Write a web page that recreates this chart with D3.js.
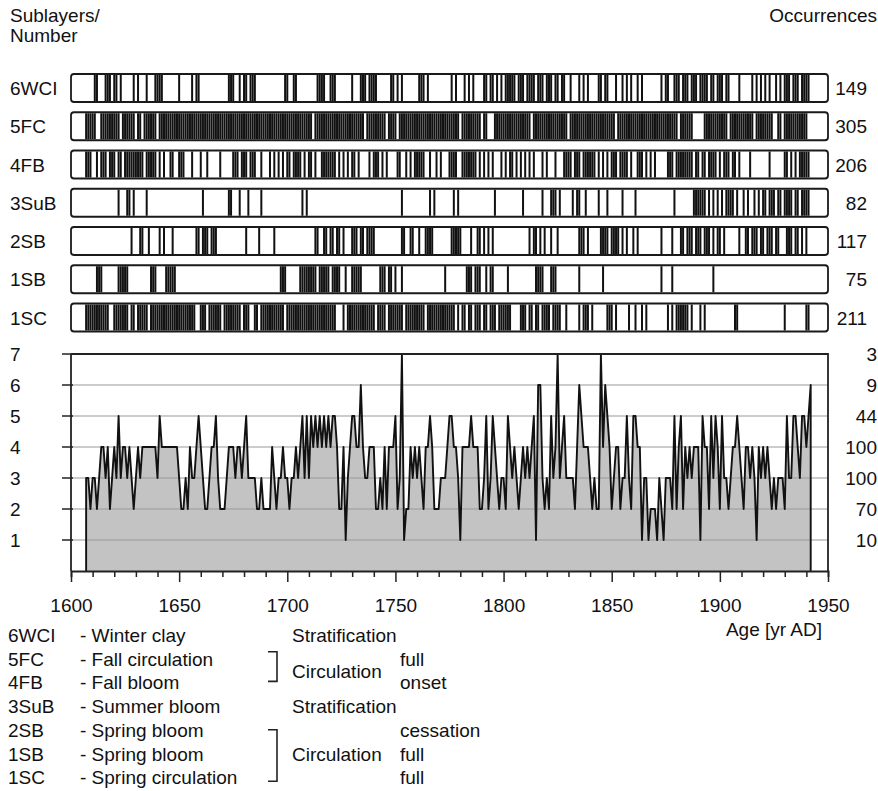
<!DOCTYPE html>
<html lang="en">
<head>
<meta charset="UTF-8" />
<title>Sublayers</title>
<script src="https://cdn.jsdelivr.net/npm/d3@7"></script>
<style>
  body { margin: 0; background: #fff; }
  svg { display: block; font-family: 'Liberation Sans', Arial, Helvetica, sans-serif; }
  text { fill: #111; font-size: 19px; }
</style>
</head>
<body>
<svg id="chart" width="878" height="791"></svg>
<script>
// number of sublayers per year, from 1607 on
const firstYear = 1607
const counts = [
  3,3,2,3,3,2,3,4,4,3, 4,2,3,4,3,5,3,4,4,3, 4,3,2,3,4,3,4,4,4,4,
  4,4,4,3,5,4,4,4,4,4, 4,4,4,3,2,2,3,2,4,3, 3,4,5,4,3,2,2,3,4,4,
  5,3,2,2,2,3,4,4,4,3, 4,4,3,4,5,3,3,3,3,2, 2,3,2,2,2,2,4,3,2,3,
  3,4,3,3,2,3,3,4,3,4, 5,3,5,3,5,4,5,4,5,4, 5,4,5,4,5,5,4,2,2,4,
  1,3,4,5,5,4,4,6,4,3, 3,4,4,4,2,2,3,2,4,2, 4,4,4,5,2,3,7,1,2,2,
  4,3,4,3,4,3,2,4,4,5, 4,2,2,2,3,3,3,4,5,5, 4,4,3,1,4,4,4,4,5,4,
  4,4,2,2,3,5,2,3,5,4, 3,2,3,3,2,5,4,3,4,3, 2,3,4,3,4,3,4,5,1,6,
  6,3,2,3,2,5,3,4,7,3, 4,5,3,3,3,3,2,4,6,5, 4,4,4,3,2,3,2,2,7,4,
  6,5,4,2,3,4,4,2,3,3, 5,3,2,5,5,4,4,1,3,3, 1,2,2,2,1,3,2,1,3,3,
  3,2,5,2,4,5,2,4,3,4, 3,4,4,4,1,5,4,4,2,5, 3,5,4,2,5,3,3,2,3,4,
  4,5,4,3,2,4,4,3,4,3, 1,4,3,4,3,4,3,2,3,2, 3,3,3,2,5,3,3,5,5,4,
  3,5,5,4,5,6
]

const sublayers = ['6WCI', '5FC', '4FB', '3SuB', '2SB', '1SB', '1SC']
const occurrences = [149, 305, 206, 82, 117, 75, 211]
const numberTicks = [1, 2, 3, 4, 5, 6, 7]
const numberTotals = [10, 70, 100, 100, 44, 9, 3]
const yearTicks = [1600, 1650, 1700, 1750, 1800, 1850, 1900, 1950]

// years with the sublayer present: single years or [from, to] runs
const layer6WCI = [1611, 1612, [1616, 1618], 1620, 1621, 1623, 1629, 1631, 1635, [1639, 1642], 1650, 1656, 1658, 1659,
  [1673, 1675], 1678, [1680, 1681], [1683, 1685], 1699, 1700, 1703, 1704, [1714, 1717], [1720, 1722], 1730,
  [1734, 1736], [1738, 1741], 1748, 1749, 1751, 1753, [1761, 1763], 1765, 1776, 1778, 1782, 1784, 1786, 1791, 1792,
  1794, 1795, 1797, 1799, [1801, 1805], [1807, 1809], [1811, 1814], [1816, 1818], [1820, 1822], [1824, 1825],
  [1827, 1828], 1831, 1835, 1837, 1839, 1844, 1845, 1847, 1848, 1852, 1855, 1857, 1859, 1862, 1864, 1873, 1875, 1876,
  [1879, 1881], [1883, 1885], [1887, 1889], [1891, 1894], [1896, 1897], [1899, 1901], [1903, 1904], 1909, 1915,
  1917, 1919, 1921, 1923, 1926, 1928, [1930, 1932], [1934, 1936], [1938, 1941]]
const layer5FC = [[1607, 1611], [1614, 1622], [1624, 1629], [1631, 1632], [1634, 1639], [1641, 1711], [1713, 1735],
  [1737, 1745], [1747, 1750], [1752, 1779], [1781, 1789], [1791, 1792], [1796, 1812], [1814, 1829], [1831, 1851],
  [1853, 1880], [1882, 1887], [1893, 1903], [1905, 1915], [1917, 1924], [1927, 1928], [1930, 1940]]
const layer4FB = [[1607, 1609], 1612, [1614, 1616], [1618, 1620], [1622, 1623], [1625, 1633], [1635, 1639], 1641, 1643,
  [1646, 1647], [1650, 1652], 1656, 1660, 1663, 1669, [1675, 1677], [1679, 1681], [1683, 1685], 1688, 1692, 1694, 1696,
  1698, [1700, 1701], [1703, 1706], 1708, [1710, 1711], 1713, [1716, 1722], 1724, 1726, 1728, [1730, 1731], 1733, 1738,
  [1740, 1742], 1744, 1746, [1751, 1752], 1755, 1757, [1759, 1763], 1766, 1769, 1771, [1775, 1778], [1781, 1787], 1789,
  1791, 1793, 1795, 1799, 1801, [1803, 1804], 1806, 1808, 1810, 1812, 1814, 1818, 1820, 1824, [1828, 1831],
  [1833, 1835], [1837, 1842], 1844, 1846, 1848, [1850, 1852], [1854, 1857], 1859, [1862, 1864], 1866, 1868, 1870,
  [1876, 1878], [1880, 1887], [1889, 1890], [1892, 1893], [1895, 1898], 1900, [1902, 1904], [1906, 1907], 1909, 1914,
  1923, [1930, 1931], 1933, 1935, [1937, 1941]]
const layer3SuB = [1622, 1626, 1627, 1629, 1635, 1661, 1673, 1674, 1678, 1682, 1688, 1707, 1709, 1753, 1766, 1768,
  1777, 1779, 1796, 1809, 1818, [1822, 1824], 1826, 1832, [1834, 1835], 1838, 1844, 1848, 1855, 1861, 1879,
  [1888, 1893], 1895, 1897, 1899, 1901, [1903, 1906], 1908, 1911, 1913, 1916, 1918, [1920, 1921], [1923, 1925],
  [1927, 1928], [1930, 1933], [1935, 1936], [1938, 1941]]
const layer2SB = [1628, 1632, 1633, 1636, 1641, 1643, 1647, [1658, 1659], [1661, 1663], [1665, 1667], 1681, 1687, 1694,
  [1713, 1714], [1717, 1718], [1720, 1721], [1723, 1724], 1726, [1730, 1732], [1734, 1735], [1737, 1740], [1753, 1754],
  [1757, 1758], 1761, [1764, 1767], [1776, 1780], 1785, [1788, 1789], 1791, 1793, 1795, 1812, [1814, 1815], 1817, 1819,
  1822, 1825, [1835, 1837], 1839, [1845, 1848], [1850, 1853], 1855, 1857, 1860, 1862, 1873, 1878, [1882, 1883],
  [1885, 1887], [1889, 1891], [1893, 1895], 1897, [1899, 1900], 1902, 1909, [1912, 1913], [1915, 1917], [1919, 1920],
  [1922, 1924], [1926, 1927], [1931, 1933], [1935, 1936], 1938, 1940]
const layer1SB = [[1612, 1614], [1622, 1626], [1637, 1639], [1644, 1648], [1697, 1699], [1706, 1713], [1715, 1719],
  [1721, 1724], 1727, [1730, 1734], [1743, 1745], [1747, 1748], 1750, 1753, 1773, [1783, 1785], [1787, 1789], 1792,
  [1794, 1795], 1802, [1815, 1818], [1822, 1824], 1835, 1846, 1873, 1878, 1897]
const layer1SC = [[1607, 1617], [1620, 1626], [1628, 1629], [1631, 1635], [1637, 1657], [1660, 1662], [1664, 1669],
  [1671, 1678], [1680, 1682], [1685, 1686], [1688, 1698], [1700, 1722], 1726, [1728, 1740], [1742, 1745], [1747, 1753],
  [1755, 1763], [1765, 1777], 1779, [1781, 1782], [1784, 1785], [1787, 1789], [1791, 1792], [1794, 1796], [1798, 1803],
  [1808, 1810], [1812, 1813], [1815, 1816], [1818, 1821], [1823, 1826], 1829, 1835, [1837, 1839], 1841, [1848, 1850],
  1852, 1858, 1861, 1864, 1866, 1876, 1878, [1880, 1885], 1887, 1891, 1893, [1907, 1908], 1930, [1940, 1941]]

const legendNames = ['- Winter clay', '- Fall circulation', '- Fall bloom', '- Summer bloom',
  '- Spring bloom', '- Spring bloom', '- Spring circulation']
const legendPhase = ['Stratification', '', '', 'Stratification', '', '', '']
const legendState = ['', 'full', 'onset', '', 'cessation', 'full', 'full']

function expand(runs) {
  const years = []
  runs.forEach(r => {
    if (Array.isArray(r)) d3.range(r[0], r[1] + 1).forEach(y => years.push(y))
    else years.push(r)
  })
  return years
}
const layers = [layer6WCI, layer5FC, layer4FB, layer3SuB, layer2SB, layer1SB, layer1SC].map(expand)

const svg = d3.select('#chart')
const left = 71, right = 828
const x = d3.scaleLinear().domain([1600, 1950]).range([left, right])
const rowH = 28
const rowTop = i => 74 + i * 38.25

// barcode rows
sublayers.forEach((name, i) => {
  const top = rowTop(i)
  const g = svg.append('g')
  g.selectAll('rect.bar')
    .data(layers[i])
    .join('rect')
    .attr('class', 'bar')
    .attr('x', d => x(d) - 1)
    .attr('y', top + 1)
    .attr('width', 2)
    .attr('height', rowH - 2)
    .attr('fill', '#111')
  g.append('rect')
    .attr('x', left).attr('y', top)
    .attr('width', right - left).attr('height', rowH)
    .attr('rx', 3)
    .attr('fill', 'none').attr('stroke', '#1a1a1a').attr('stroke-width', 1.8)
  g.append('text').attr('x', 10).attr('y', top + rowH / 2 + 7).text(name)
  g.append('text').attr('x', 867).attr('y', top + rowH / 2 + 7)
    .attr('text-anchor', 'end').text(occurrences[i])
})

// number of sublayers chart
const y = d3.scaleLinear().domain([0, 7]).range([571, 354])
const series = counts.map((v, i) => ({ year: firstYear + i, v }))
const lastYear = firstYear + counts.length - 1
const closed = [{ year: firstYear, v: 0 }, ...series, { year: lastYear, v: 0 }]

svg.append('path')
  .datum(closed)
  .attr('d', d3.area().x(d => x(d.year)).y0(y(0)).y1(d => y(d.v)))
  .attr('fill', '#c3c3c3')

svg.append('g')
  .selectAll('line')
  .data(numberTicks.filter(d => d < 7))
  .join('line')
  .attr('x1', left).attr('x2', right)
  .attr('y1', d => y(d)).attr('y2', d => y(d))
  .attr('stroke', '#999').attr('stroke-width', 1)

svg.append('path')
  .datum(closed)
  .attr('d', d3.line().x(d => x(d.year)).y(d => y(d.v)))
  .attr('fill', 'none')
  .attr('stroke', '#111')
  .attr('stroke-width', 1.9)
  .attr('stroke-linejoin', 'round')

// frame: top and right
svg.append('path')
  .attr('d', `M${left},${y(7)}H${right}V${y(0)}`)
  .attr('fill', 'none').attr('stroke', '#222').attr('stroke-width', 1.8)

// y axis
const yAxis = svg.append('g')
yAxis.append('line')
  .attr('x1', left).attr('x2', left).attr('y1', y(7)).attr('y2', y(0))
  .attr('stroke', '#222').attr('stroke-width', 1.8)
yAxis.selectAll('line.tick')
  .data(numberTicks)
  .join('line')
  .attr('class', 'tick')
  .attr('x1', left - 9).attr('x2', left + 2)
  .attr('y1', d => y(d)).attr('y2', d => y(d))
  .attr('stroke', '#222').attr('stroke-width', 1.5)
yAxis.selectAll('text.lab')
  .data(numberTicks)
  .join('text')
  .attr('class', 'lab')
  .attr('x', 10).attr('y', d => y(d) + 7)
  .text(d => d)
svg.append('g')
  .selectAll('text')
  .data(numberTicks)
  .join('text')
  .attr('x', 877).attr('y', (d, i) => y(d) + 7)
  .attr('text-anchor', 'end')
  .text((d, i) => numberTotals[i])

// x axis
const xAxis = d3.axisBottom(x)
  .tickValues(d3.range(1600, 1951, 10))
  .tickSize(6)
  .tickFormat(d => (d % 50 === 0 ? d : ''))
const xg = svg.append('g')
  .attr('transform', `translate(0 ${y(0)})`)
  .call(xAxis)
xg.select('.domain').attr('stroke', '#222').attr('stroke-width', 1.8)
xg.selectAll('.tick line')
  .attr('stroke', '#222').attr('stroke-width', 1.5)
  .attr('y2', d => (yearTicks.includes(d) ? 11 : 6))
xg.selectAll('.tick text')
  .attr('y', 41).attr('dy', null)
  .style('font-size', '19px').style('font-family', "'Liberation Sans', Arial, sans-serif")
  .attr('fill', '#111')

svg.append('text').attr('x', 822).attr('y', 636).attr('text-anchor', 'end').text('Age [yr AD]')

// headers
svg.append('text').attr('x', 10).attr('y', 22).text('Sublayers/')
svg.append('text').attr('x', 10).attr('y', 42).text('Number')
svg.append('text').attr('x', 877).attr('y', 22).attr('text-anchor', 'end').text('Occurrences')

// legend
const lg = svg.append('g')
const base = i => 642 + i * 23.7
sublayers.forEach((code, i) => {
  lg.append('text').attr('x', 8).attr('y', base(i)).text(code)
  lg.append('text').attr('x', 80).attr('y', base(i)).text(legendNames[i])
  if (legendPhase[i]) lg.append('text').attr('x', 292).attr('y', base(i)).text(legendPhase[i])
  if (legendState[i]) lg.append('text').attr('x', 400).attr('y', base(i)).text(legendState[i])
})
lg.append('text').attr('x', 292).attr('y', (base(1) + base(2)) / 2).text('Circulation')
lg.append('text').attr('x', 292).attr('y', base(5)).text('Circulation')
lg.append('path')
  .attr('d', `M268,${base(1) - 14}H277V${base(2) - 8}H268`)
  .attr('fill', 'none').attr('stroke', '#222').attr('stroke-width', 1.6)
lg.append('path')
  .attr('d', `M268,${base(4) - 7}H277V${base(6) - 3}H268`)
  .attr('fill', 'none').attr('stroke', '#222').attr('stroke-width', 1.6)
</script>
</body>
</html>
